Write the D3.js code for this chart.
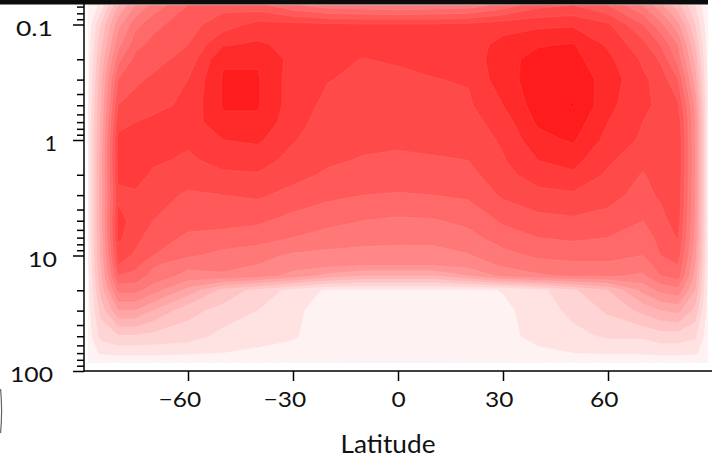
<!DOCTYPE html>
<html>
<head>
<meta charset="utf-8">
<script src="https://cdn.jsdelivr.net/npm/d3@7"></script>
<style>
body { margin: 0; background: #fff; }
svg { display: block; }
text { font-family: Lato, "Open Sans", sans-serif; fill: #111; }
</style>
</head>
<body>
<svg id="chart" width="712" height="461"></svg>
<script>
// grid columns (latitude) and rows (pressure, hPa)
var lats = [-88.5, -85, -80, -75, -70, -60, -50, -40, -30, -20, -10, 0, 10, 20, 30, 40, 50, 60, 70, 75, 80, 85, 88.5];
var pressures = [0.068, 0.1, 0.15, 0.2, 0.3, 0.5, 0.7, 1, 1.5, 2, 3, 5, 7, 10, 12, 15, 20, 30, 50, 70, 85];

// field, one row per pressure level
var field = [
  [0.00, 0.08, 0.30, 0.42, 0.50, 0.60, 0.64, 0.62, 0.55, 0.50, 0.49, 0.48, 0.49, 0.50, 0.56, 0.64, 0.66, 0.60, 0.48, 0.38, 0.26, 0.12, 0.00],
  [0.02, 0.18, 0.40, 0.52, 0.58, 0.64, 0.69, 0.74, 0.74, 0.73, 0.725, 0.725, 0.725, 0.735, 0.755, 0.765, 0.77, 0.73, 0.60, 0.50, 0.38, 0.18, 0.02],
  [0.03, 0.22, 0.46, 0.58, 0.62, 0.66, 0.775, 0.79, 0.76, 0.745, 0.74, 0.745, 0.745, 0.75, 0.80, 0.835, 0.845, 0.77, 0.68, 0.60, 0.48, 0.24, 0.03],
  [0.04, 0.25, 0.52, 0.62, 0.64, 0.68, 0.835, 0.835, 0.76, 0.735, 0.718, 0.73, 0.735, 0.74, 0.82, 0.86, 0.86, 0.795, 0.71, 0.65, 0.52, 0.28, 0.04],
  [0.05, 0.28, 0.60, 0.65, 0.67, 0.72, 0.845, 0.845, 0.75, 0.722, 0.71, 0.70, 0.718, 0.725, 0.815, 0.87, 0.88, 0.815, 0.73, 0.70, 0.60, 0.33, 0.05],
  [0.06, 0.30, 0.66, 0.68, 0.70, 0.735, 0.845, 0.845, 0.75, 0.705, 0.70, 0.69, 0.70, 0.71, 0.78, 0.87, 0.903, 0.80, 0.725, 0.715, 0.67, 0.40, 0.06],
  [0.07, 0.31, 0.70, 0.72, 0.735, 0.74, 0.83, 0.83, 0.74, 0.695, 0.69, 0.68, 0.69, 0.695, 0.75, 0.85, 0.875, 0.78, 0.72, 0.718, 0.70, 0.42, 0.07],
  [0.07, 0.32, 0.735, 0.76, 0.745, 0.73, 0.78, 0.79, 0.725, 0.685, 0.675, 0.67, 0.675, 0.68, 0.73, 0.82, 0.848, 0.76, 0.71, 0.715, 0.71, 0.42, 0.07],
  [0.07, 0.33, 0.74, 0.765, 0.73, 0.71, 0.74, 0.745, 0.70, 0.67, 0.655, 0.65, 0.655, 0.66, 0.715, 0.78, 0.80, 0.73, 0.68, 0.712, 0.715, 0.42, 0.07],
  [0.07, 0.33, 0.73, 0.745, 0.71, 0.69, 0.71, 0.715, 0.68, 0.65, 0.635, 0.63, 0.635, 0.64, 0.70, 0.75, 0.77, 0.71, 0.655, 0.69, 0.71, 0.42, 0.07],
  [0.07, 0.33, 0.71, 0.71, 0.69, 0.65, 0.66, 0.67, 0.64, 0.615, 0.60, 0.595, 0.60, 0.61, 0.67, 0.70, 0.71, 0.68, 0.64, 0.67, 0.70, 0.42, 0.07],
  [0.07, 0.33, 0.74, 0.70, 0.66, 0.62, 0.62, 0.61, 0.58, 0.555, 0.54, 0.53, 0.535, 0.555, 0.61, 0.64, 0.65, 0.64, 0.60, 0.64, 0.69, 0.41, 0.07],
  [0.07, 0.32, 0.735, 0.68, 0.63, 0.59, 0.58, 0.57, 0.54, 0.52, 0.505, 0.50, 0.50, 0.52, 0.57, 0.60, 0.61, 0.60, 0.57, 0.62, 0.665, 0.40, 0.07],
  [0.06, 0.31, 0.69, 0.65, 0.60, 0.55, 0.52, 0.50, 0.47, 0.46, 0.455, 0.453, 0.455, 0.475, 0.52, 0.55, 0.56, 0.56, 0.54, 0.60, 0.63, 0.38, 0.06],
  [0.06, 0.30, 0.66, 0.62, 0.55, 0.50, 0.50, 0.48, 0.45, 0.44, 0.43, 0.43, 0.43, 0.445, 0.49, 0.52, 0.53, 0.53, 0.51, 0.57, 0.60, 0.36, 0.06],
  [0.05, 0.29, 0.60, 0.58, 0.52, 0.46, 0.47, 0.45, 0.40, 0.34, 0.30, 0.30, 0.30, 0.36, 0.44, 0.47, 0.49, 0.49, 0.47, 0.54, 0.57, 0.34, 0.05],
  [0.05, 0.26, 0.50, 0.50, 0.45, 0.34, 0.22, 0.16, 0.10, 0.05, 0.05, 0.05, 0.05, 0.05, 0.062, 0.10, 0.17, 0.24, 0.38, 0.44, 0.46, 0.30, 0.05],
  [0.04, 0.20, 0.36, 0.36, 0.30, 0.20, 0.16, 0.12, 0.07, 0.04, 0.03, 0.03, 0.03, 0.035, 0.05, 0.08, 0.14, 0.19, 0.26, 0.30, 0.32, 0.22, 0.04],
  [0.03, 0.14, 0.17, 0.17, 0.16, 0.15, 0.10, 0.08, 0.065, 0.035, 0.03, 0.03, 0.03, 0.035, 0.045, 0.075, 0.10, 0.13, 0.13, 0.15, 0.15, 0.13, 0.03],
  [0.02, 0.07, 0.08, 0.08, 0.08, 0.07, 0.06, 0.05, 0.045, 0.03, 0.02, 0.02, 0.02, 0.03, 0.04, 0.05, 0.06, 0.07, 0.07, 0.08, 0.08, 0.07, 0.02],
  [-0.005, -0.005, -0.005, -0.005, -0.005, -0.005, -0.005, -0.005, -0.005, -0.005, -0.005, -0.005, -0.005, -0.005, -0.005, -0.005, -0.005, -0.005, -0.005, -0.005, -0.005, -0.005, -0.005]
];

var xTicks = [-60, -30, 0, 30, 60];
var yTicks = [0.1, 1, 10, 100];
var yTickLabels = ["0.1", "1", "10", "100"];
var xLabel = "Latitude";

var svg = d3.select("#chart");

var x = d3.scaleLinear().domain([-90, 90]).range([83, 713]);
var y = d3.scaleLog().domain([0.1, 100]).range([24.5, 371]);

// contour levels and colours (white -> red, small blue band below zero)
var levels = d3.range(-1, 16).map(function(k) { return k * 0.06; });
var red = d3.interpolateRgb("#ffffff", "#ff0000");
var levelColor = function(t) {
    if (t < 0) { return "#f2f2ff"; }
    return red(Math.min(1, t + 0.05));
};

// grid index -> lat / pressure
var latAt = d3.scaleLinear().domain(d3.range(lats.length)).range(lats).clamp(true);
var logpAt = d3.scaleLinear().domain(d3.range(pressures.length))
    .range(pressures.map(function(p) { return Math.log10(p); })).clamp(true);

var proj = d3.geoTransform({
    point: function(cx, cy) {
        this.stream.point(x(latAt(cx - 0.5)), y(Math.pow(10, logpAt(cy - 0.5))));
    }
});
var path = d3.geoPath(proj);

var values = [].concat.apply([], field);
var bands = d3.contours()
    .size([lats.length, pressures.length])
    .thresholds(levels)(values);

svg.append("g")
    .selectAll("path")
    .data(bands)
    .enter()
    .append("path")
    .attr("d", path)
    .attr("fill", function(d) { return levelColor(d.value); })
    .attr("stroke", "#ffffff")
    .attr("stroke-opacity", 0.12)
    .attr("stroke-width", 0.6);

// y axis (log, major + minor ticks)
var minor = [];
[0.01, 0.1, 1, 10].forEach(function(d) {
    for (var m = 2; m <= 9; m++) {
        var v = m * d;
        if (v >= 0.065 && v < 100) { minor.push(v); }
    }
});

var yMinor = svg.append("g")
    .attr("transform", "translate(84,0)")
    .call(d3.axisLeft(y).tickValues(minor).tickSize(7).tickFormat(""));

var yMajor = svg.append("g")
    .attr("transform", "translate(84,0)")
    .call(d3.axisLeft(y).tickValues(yTicks).tickSize(11).tickPadding(28)
        .tickFormat(function(d, i) { return yTickLabels[i]; }));

[yMinor, yMajor].forEach(function(g) {
    g.select(".domain").remove();
    g.selectAll("line").attr("stroke", "#000").attr("stroke-width", 1.5);
});
// widths and right edges
var yLabelWidth = { "0.1": 37, "1": 0, "10": 29, "100": 43 };
var yLabelEnd = { "0.1": 53, "1": 57, "10": 57, "100": 53 };
yMajor.selectAll("text")
    .attr("font-size", 21)
    .attr("x", function(d, i) { return yLabelEnd[yTickLabels[i]] - 84; })
    .attr("dy", "0.5em")
    .attr("textLength", function(d, i) { return yLabelWidth[yTickLabels[i]] || null; })
    .attr("lengthAdjust", "spacingAndGlyphs");

// x axis
var xAxis = svg.append("g")
    .attr("transform", "translate(0,371)")
    .call(d3.axisBottom(x).tickValues(xTicks).tickSize(10).tickPadding(11)
        .tickFormat(function(d) { return d < 0 ? "\u2212" + Math.abs(d) : String(d); }));
xAxis.select(".domain").remove();
xAxis.selectAll("line").attr("stroke", "#000").attr("stroke-width", 1.5);
xAxis.selectAll("text")
    .attr("font-size", 21)
    .attr("dx", function(d) { var s = String(Math.abs(d)).length + (d < 0 ? 1 : 0); return -(s - 1) * 4.3; })
    .attr("textLength", function(d) { var s = String(Math.abs(d)).length + (d < 0 ? 1 : 0); return s * 14.2; })
    .attr("lengthAdjust", "spacingAndGlyphs");

// spines
svg.append("line").attr("x1", 84).attr("x2", 84).attr("y1", 0).attr("y2", 371.75)
    .attr("stroke", "#000").attr("stroke-width", 1.5);
svg.append("line").attr("x1", 84).attr("x2", 712).attr("y1", 371).attr("y2", 371)
    .attr("stroke", "#000").attr("stroke-width", 1.5);

// top bar
svg.append("rect").attr("x", 0).attr("y", 0).attr("width", 708).attr("height", 4.5).attr("fill", "#0b0b0b");

// x label
svg.append("text")
    .attr("x", 388).attr("y", 453)
    .attr("text-anchor", "middle")
    .attr("font-size", 25)
    .attr("textLength", 95)
    .attr("lengthAdjust", "spacingAndGlyphs")
    .text(xLabel);

// cut-off mark at the left edge
svg.append("path")
    .attr("d", "M0.6,389 Q2.6,411 0.6,433")
    .attr("fill", "none")
    .attr("stroke", "#666")
    .attr("stroke-width", 1.2);
</script>
</body>
</html>
